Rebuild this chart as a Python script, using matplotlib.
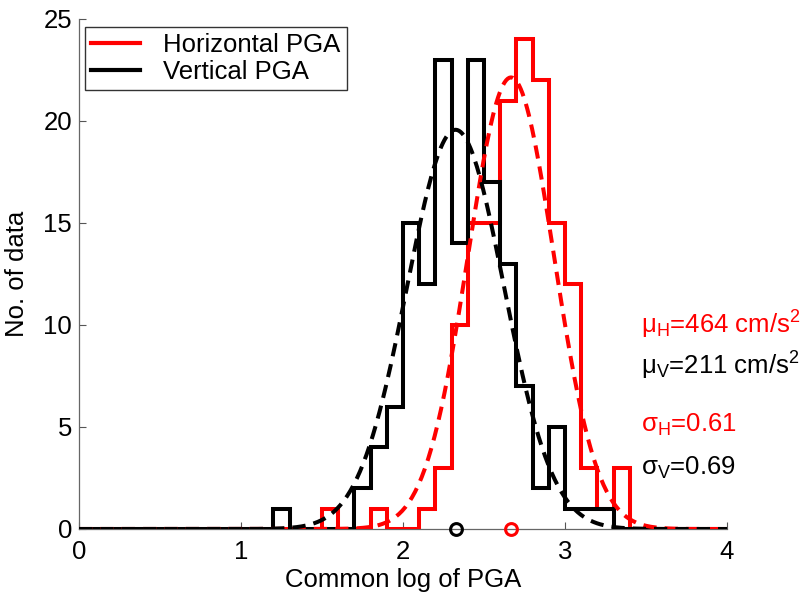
import numpy as np
import matplotlib
matplotlib.use("Agg")
import matplotlib.pyplot as plt

plt.rcParams['font.family'] = ['Liberation Sans', 'DejaVu Sans']

# ---- data ----
bin_edges = np.round(np.linspace(0.0, 4.0, 41), 1)
# counts per 0.1-wide bin, starting at 0.0
counts_h = [0]*15 + [1, 0, 0, 1, 0, 0, 1, 3, 10, 15, 15, 21, 24, 22, 15, 12, 3, 1, 3] + [0]*6
counts_v = [0]*12 + [1, 0, 0, 0, 0, 2, 4, 6, 15, 12, 23, 14, 23, 17, 13, 7, 2, 5, 1, 1, 1] + [0]*7
mean_h_cms2 = 464
mean_v_cms2 = 211
sigma_h_ln = 0.61
sigma_v_ln = 0.69
series_labels = ["Horizontal PGA", "Vertical PGA"]
x_ticks = [0, 1, 2, 3, 4]
y_ticks = [0, 5, 10, 15, 20, 25]

fig = plt.figure(figsize=(8.1, 5.92), dpi=100)
ax = fig.add_axes([79/810, 1-529/592, (727-79)/810, (529-19)/592])

red = '#ff0000'
blk = '#000000'
lw = 2.9

n_h = sum(counts_h)
n_v = sum(counts_v)
bw = bin_edges[1] - bin_edges[0]
xs = np.linspace(0, 4, 400)

def fit_curve(n, mean_lin, sigma_ln):
    mu = np.log10(mean_lin)
    s = sigma_ln / np.log(10)
    return mu, n * bw / (s * np.sqrt(2*np.pi)) * np.exp(-0.5*((xs-mu)/s)**2)

mu_h, fh = fit_curve(n_h, mean_h_cms2, sigma_h_ln)
mu_v, fv = fit_curve(n_v, mean_v_cms2, sigma_v_ln)

ax.stairs(counts_h, bin_edges, color=red, lw=lw, baseline=None, label=series_labels[0], zorder=3)
ax.stairs(counts_v, bin_edges, color=blk, lw=lw, baseline=None, label=series_labels[1], zorder=4)
ax.plot(xs, fh, color=red, lw=lw, ls=(0, (3.3, 2.0)), zorder=5)
ax.plot(xs, fv, color=blk, lw=lw, ls=(0, (3.3, 2.0)), zorder=6)

ax.plot([mu_v], [0], 'o', mfc='none', mec=blk, mew=2.2, ms=8.5, clip_on=False, zorder=7)
ax.plot([mu_h], [0], 'o', mfc='none', mec=red, mew=2.2, ms=8.5, clip_on=False, zorder=7)

fs = 18.5
ax.text(3.47, 10, r'$\mathregular{\mu_H}$=%d cm/s$\mathregular{^2}$' % mean_h_cms2, color=red,
        fontsize=fs, va='center', ha='left', clip_on=False)
ax.text(3.47, 8, r'$\mathregular{\mu_V}$=%d cm/s$\mathregular{^2}$' % mean_v_cms2, color=blk,
        fontsize=fs, va='center', ha='left', clip_on=False)
ax.text(3.47, 5.1, r'$\mathregular{\sigma_H}$=%.2f' % sigma_h_ln, color=red,
        fontsize=fs, va='center', ha='left', clip_on=False)
ax.text(3.47, 3.0, r'$\mathregular{\sigma_V}$=%.2f' % sigma_v_ln, color=blk,
        fontsize=fs, va='center', ha='left', clip_on=False)

ax.set_xlim(0, 4)
ax.set_ylim(0, 25)
ax.set_xticks(x_ticks)
ax.set_yticks(y_ticks)
ax.tick_params(direction='in', length=5, width=0.8, color='#555555', labelsize=fs)
ax.tick_params(axis='x', pad=8)
ax.tick_params(axis='y', pad=5)
for side in ['top', 'right']:
    ax.spines[side].set_visible(False)
for side in ['left', 'bottom']:
    ax.spines[side].set_color('#666666')
    ax.spines[side].set_linewidth(0.9)

ax.set_xlabel('Common log of PGA', fontsize=fs, labelpad=3)
ax.set_ylabel('No. of data', fontsize=fs, labelpad=10)

leg = ax.legend(loc='upper left', fontsize=fs, frameon=True, fancybox=False, edgecolor='black',
                handlelength=1.9, handletextpad=0.9, borderpad=0.25, labelspacing=0.1,
                bbox_to_anchor=(0.009, 0.985), borderaxespad=0)
leg.get_frame().set_linewidth(1.0)
for h in leg.get_lines():
    h.set_linewidth(3)

fig.savefig('out.png', dpi=100)
